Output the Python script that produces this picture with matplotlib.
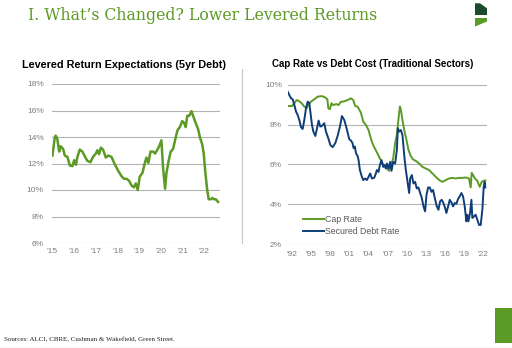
import matplotlib
matplotlib.use("Agg")
import matplotlib.pyplot as plt
from matplotlib.patches import Polygon, Rectangle
from matplotlib.lines import Line2D

# ---------------- data ----------------
lev_years = [2015.00, 2015.11, 2015.15, 2015.22, 2015.31, 2015.38, 2015.49, 2015.57, 2015.69, 2015.80,
             2015.92, 2016.00, 2016.08, 2016.15, 2016.26, 2016.38, 2016.52, 2016.61, 2016.75, 2016.87,
             2017.00, 2017.07, 2017.15, 2017.23, 2017.33, 2017.46, 2017.57, 2017.72, 2017.87, 2018.03,
             2018.18, 2018.29, 2018.41, 2018.53, 2018.64, 2018.75, 2018.84, 2018.93, 2019.02, 2019.15,
             2019.25, 2019.33, 2019.42, 2019.52, 2019.64, 2019.73, 2019.82, 2019.92, 2020.02, 2020.10,
             2020.19, 2020.25, 2020.36, 2020.45, 2020.56, 2020.67, 2020.76, 2020.87, 2020.98, 2021.07,
             2021.14, 2021.21, 2021.30, 2021.41, 2021.48, 2021.59, 2021.71, 2021.80, 2021.90, 2021.97,
             2022.05, 2022.13, 2022.20, 2022.30, 2022.37, 2022.45, 2022.53, 2022.63]
lev_return = [12.6, 14.0, 14.1, 13.9, 12.9, 13.3, 13.1, 12.6, 12.5, 11.85,
              11.8, 12.25, 11.9, 12.5, 13.05, 12.9, 12.45, 12.2, 12.1, 12.5,
              12.75, 13.0, 12.7, 13.2, 13.05, 12.45, 12.6, 12.5, 11.95, 11.45,
              11.05, 10.85, 10.85, 10.7, 10.35, 10.2, 10.5, 10.0, 11.0, 11.3,
              12.0, 12.45, 12.05, 12.9, 12.9, 12.75, 13.0, 13.3, 13.75, 11.6,
              10.1, 11.25, 12.25, 12.9, 13.1, 13.9, 14.5, 14.75, 15.2, 15.05,
              14.75, 15.6, 15.6, 15.95, 15.6, 15.1, 14.6, 13.95, 13.45, 12.75,
              11.25, 10.0, 9.3, 9.3, 9.4, 9.3, 9.3, 9.1]
lev_ticks = [2015, 2016, 2017, 2018, 2019, 2020, 2021, 2022]
lev_ticklabels = ["'15", "'16", "'17", "'18", "'19", "'20", "'21", "'22"]
lev_yticks = [6, 8, 10, 12, 14, 16, 18]

cap_years = [1991.32, 1992.00, 1992.37, 1992.73, 1993.00, 1993.52, 1993.93, 1994.30, 1994.55, 1994.98,
             1995.50, 1996.03, 1996.65, 1997.18, 1997.55, 1997.70, 1997.95, 1998.20, 1998.45, 1998.95,
             1999.32, 1999.68, 2000.05, 2000.73, 2001.25, 2001.62, 2001.93, 2002.30, 2002.82, 2003.19,
             2003.61, 2004.02, 2004.39, 2004.65, 2005.02, 2005.43, 2005.80, 2006.22, 2006.58, 2006.90,
             2007.26, 2007.53, 2007.89, 2008.20, 2008.47, 2008.73, 2008.94, 2009.09, 2009.35, 2009.62,
             2009.98, 2010.30, 2010.66, 2011.03, 2011.45, 2011.97, 2012.49, 2013.01, 2013.54, 2014.06,
             2014.58, 2015.11, 2015.63, 2016.15, 2016.67, 2017.20, 2017.72, 2018.24, 2018.76, 2019.29,
             2019.81, 2020.07, 2020.23, 2020.44, 2020.75, 2021.11, 2021.48, 2021.80, 2022.06, 2022.37]
cap_rate = [8.93, 8.93, 9.07, 9.23, 9.20, 9.07, 8.90, 8.82, 9.00, 9.15,
            9.27, 9.40, 9.43, 9.37, 9.27, 8.82, 8.77, 9.07, 8.98, 9.03,
            8.98, 9.15, 9.15, 9.23, 9.32, 9.23, 8.93, 8.90, 8.60, 8.15,
            7.98, 7.73, 7.30, 7.05, 6.80, 6.55, 6.30, 6.05, 5.92, 5.80,
            5.68, 5.97, 6.30, 7.08, 7.47, 8.30, 8.90, 8.77, 8.23, 7.73,
            7.23, 6.72, 6.42, 6.25, 6.18, 6.05, 5.88, 5.80, 5.72, 5.55,
            5.38, 5.22, 5.13, 5.22, 5.30, 5.33, 5.30, 5.33, 5.33, 5.35,
            5.30, 4.85, 5.58, 5.47, 5.30, 5.18, 4.88, 5.13, 5.18, 5.20]

debt_years = [1991.32, 1991.58, 1991.84, 1992.10, 1992.37, 1992.63, 1992.89, 1993.15, 1993.41, 1993.67,
              1993.93, 1994.20, 1994.46, 1994.72, 1994.88, 1995.14, 1995.35, 1995.66, 1995.87, 1996.18,
              1996.44, 1996.70, 1997.07, 1997.33, 1997.75, 1998.01, 1998.38, 1998.80, 1999.16, 1999.53,
              1999.84, 2000.21, 2000.57, 2000.99, 2001.25, 2001.51, 2001.67, 2001.88, 2002.04, 2002.30,
              2002.45, 2002.66, 2002.93, 2003.19, 2003.50, 2003.76, 2004.02, 2004.28, 2004.55, 2004.91,
              2005.17, 2005.33, 2005.59, 2005.80, 2006.06, 2006.32, 2006.53, 2006.74, 2006.90, 2007.16,
              2007.42, 2007.63, 2007.89, 2008.20, 2008.47, 2008.62, 2008.83, 2009.09, 2009.35, 2009.51,
              2009.67, 2009.88, 2010.14, 2010.40, 2010.56, 2010.82, 2011.08, 2011.34, 2011.60, 2011.86,
              2012.13, 2012.39, 2012.65, 2012.91, 2013.12, 2013.38, 2013.64, 2013.90, 2014.16, 2014.43,
              2014.74, 2015.00, 2015.26, 2015.52, 2015.78, 2016.05, 2016.25, 2016.52, 2016.78, 2017.04,
              2017.30, 2017.56, 2017.82, 2018.08, 2018.35, 2018.61, 2018.87, 2019.13, 2019.39, 2019.55,
              2019.71, 2019.97, 2020.18, 2020.33, 2020.59, 2020.85, 2021.11, 2021.38, 2021.64, 2021.90,
              2022.11, 2022.27, 2022.37]
debt_rate = [9.65, 9.48, 9.32, 9.27, 8.98, 8.65, 8.48, 8.23, 7.87, 7.78,
             8.23, 8.82, 9.15, 9.07, 8.65, 7.98, 7.65, 7.43, 7.73, 8.20,
             7.90, 7.93, 8.07, 7.65, 7.27, 6.98, 6.87, 7.07, 7.43, 7.90,
             8.43, 8.23, 7.82, 7.27, 7.20, 7.07, 6.82, 6.90, 6.57, 6.43,
             6.23, 5.73, 5.43, 5.22, 5.30, 5.22, 5.38, 5.55, 5.30, 5.33,
             5.55, 5.72, 5.63, 5.97, 6.22, 5.88, 5.97, 5.80, 6.05, 5.80,
             6.13, 5.68, 6.13, 6.05, 6.72, 7.82, 7.65, 7.73, 7.48, 6.90,
             6.32, 5.73, 5.15, 4.57, 5.30, 5.47, 5.05, 5.13, 4.80, 4.85,
             4.57, 4.32, 3.90, 3.65, 4.47, 4.85, 4.85, 4.63, 4.72, 4.32,
             3.90, 3.73, 4.15, 4.23, 4.07, 3.82, 3.57, 3.90, 4.23, 4.10,
             3.90, 4.07, 4.03, 4.27, 4.40, 4.57, 4.40, 3.90, 3.15, 3.48,
             3.15, 3.57, 4.23, 3.32, 3.40, 3.48, 3.23, 2.97, 2.97, 3.73,
             4.88, 5.13, 4.85]
cap_ticks = [1992, 1995, 1998, 2001, 2004, 2007, 2010, 2013, 2016, 2019, 2022]
cap_ticklabels = ["'92", "'95", "'98", "'01", "'04", "'07", "'10", "'13", "'16", "'19", "'22"]
cap_yticks = [2, 4, 6, 8, 10]

# ---------------- style ----------------
GREEN = "#5b9a24"
BLUE = "#0e3d78"
GRID = "#b3b3b3"
TICK = "#7f7f7f"
SANS = ["Liberation Sans", "DejaVu Sans"]

W, H = 512, 348
fig = plt.figure(figsize=(W / 100, H / 100), dpi=100)
fig.patch.set_facecolor("white")


def px_axes(x0, x1, ytop, ybot):
    return fig.add_axes([x0 / W, 1 - ybot / H, (x1 - x0) / W, (ybot - ytop) / H])


def style_axes(ax, yticks, xticks, xlabels, ypad, xpad):
    for s in ax.spines.values():
        s.set_visible(False)
    ax.set_yticks(yticks)
    ax.set_yticklabels([f"{v}%" for v in yticks], family=SANS, fontsize=6, color=TICK)
    ax.set_xticks(xticks)
    ax.set_xticklabels(xlabels, family=SANS, fontsize=6, color=TICK)
    ax.tick_params(axis="both", length=0)
    ax.tick_params(axis="y", pad=ypad)
    ax.tick_params(axis="x", pad=xpad)
    ax.yaxis.grid(True, color=GRID, linewidth=0.8)
    ax.set_axisbelow(True)


# left chart
ax1 = px_axes(52, 220, 84, 243)
ax1.plot(lev_years, lev_return, color=GREEN, linewidth=1.8, solid_joinstyle="round")
ax1.set_xlim(2014.98, 2022.72)
ax1.set_ylim(6, 18)
style_axes(ax1, lev_yticks, lev_ticks, lev_ticklabels, ypad=6, xpad=3.5)

# right chart
ax2 = px_axes(288, 487, 84.7, 244.3)
ax2.plot(cap_years, cap_rate, color=GREEN, linewidth=1.4, label="Cap Rate")
ax2.plot(debt_years, debt_rate, color=BLUE, linewidth=1.4, label="Secured Debt Rate")
ax2.set_xlim(1991.37, 2022.63)
ax2.set_ylim(2, 10)
style_axes(ax2, cap_yticks, cap_ticks, cap_ticklabels, ypad=4.5, xpad=5)
leg = ax2.legend(loc="lower left", bbox_to_anchor=(0.06, 0.03), frameon=False,
                 prop={"family": SANS, "size": 6.3}, handlelength=2.3, handletextpad=0.15,
                 labelspacing=0.3, borderaxespad=0)
for t in leg.get_texts():
    t.set_color("#595959")

# titles
fig.text(124.5 / W, 1 - 65 / H, "Levered Return Expectations (5yr Debt)", family=SANS,
         fontsize=7.8, fontweight="bold", ha="center", va="center", color="#000000")
fig.text(373 / W, 1 - 64 / H, "Cap Rate vs Debt Cost (Traditional Sectors)", family=SANS,
         fontsize=7.0, fontweight="bold", ha="center", va="center", color="#000000")
fig.text(28 / W, 1 - 20 / H, "I. What\u2019s Changed? Lower Levered Returns",
         family=["DejaVu Serif"], fontsize=11.3, color=GREEN, ha="left", va="baseline")
fig.text(4 / W, 1 - 340 / H, "Sources: ALCI, CBRE, Cushman & Wakefield, Green Street.",
         family=["Liberation Serif", "DejaVu Serif"], fontsize=5, color="#222222",
         ha="left", va="center")

# separator
fig.add_artist(Line2D([242 / W, 242 / W], [1 - 69 / H, 1 - 243 / H], color="#c8c8c8",
                      linewidth=0.9, transform=fig.transFigure))

# logo
def figpoly(pts, color):
    fig.add_artist(Polygon([(x / W, 1 - y / H) for x, y in pts], closed=True,
                           facecolor=color, edgecolor="none", transform=fig.transFigure))

figpoly([(475, 3.3), (480, 3.3), (487, 8.3), (487, 15), (475, 15)], "#1c4a2c")
figpoly([(475, 18), (487, 18), (487, 21.5), (475, 26.5)], GREEN)

# bottom right block and bottom rule
fig.add_artist(Rectangle((495 / W, 1 - 343 / H), 17 / W, 35 / H, facecolor=GREEN,
                         edgecolor="none", transform=fig.transFigure))
fig.add_artist(Line2D([0, 1], [1 - 347.5 / H, 1 - 347.5 / H], color="#9a9a9a",
                      linewidth=0.8, transform=fig.transFigure))

fig.savefig("out.png", dpi=100, facecolor="white")
